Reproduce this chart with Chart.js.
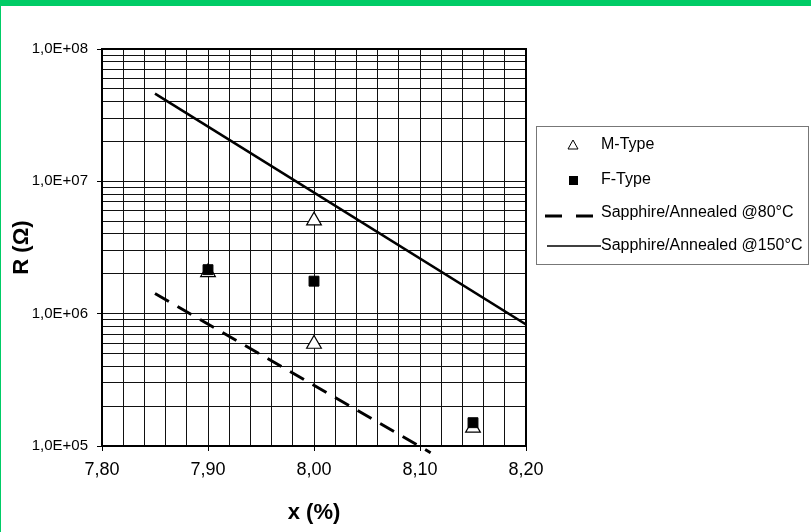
<!DOCTYPE html>
<html>
<head>
<meta charset="utf-8">
<script src="https://cdn.jsdelivr.net/npm/chart.js@4"></script>
<style>
  body { margin: 0; background: #fff; }
  #frame {
    width: 811px;
    height: 532px;
    box-sizing: border-box;
    border-top: 6px solid #00cc66;
    border-left: 1px solid #00cc66;
    background: #fff;
  }
  canvas { display: block; }
</style>
</head>
<body>
<div id="frame"><canvas id="chart" width="810" height="526"></canvas></div>
<script>
// Resistance vs. x, log scale, with two annealing reference lines

const mTypeX = [7.90, 8.00, 8.00, 8.15];
const mTypeR = [2.05e6, 5.05e6, 5.9e5, 1.37e5];

const fTypeX = [7.90, 8.00, 8.15];
const fTypeR = [2.15e6, 1.76e6, 1.5e5];

const anneal80X = [7.85, 8.11];
const anneal80R = [1.42e6, 8.9e4];

const anneal150X = [7.85, 8.20];
const anneal150R = [4.6e7, 8.3e5];

const seriesLabels = ["M-Type", "F-Type", "Sapphire/Annealed @80°C", "Sapphire/Annealed @150°C"];

const xMajorTicks = [7.8, 7.9, 8.0, 8.1, 8.2];
const xTickLabels = ["7,80", "7,90", "8,00", "8,10", "8,20"];
const xGridStep = 0.02;

const yDecades = [1e5, 1e6, 1e7, 1e8];
const yTickLabels = ["1,0E+05", "1,0E+06", "1,0E+07", "1,0E+08"];

const FONT = "'Liberation Sans', Arial, sans-serif";

function toPoints(xs, ys) {
  return xs.map((x, i) => ({ x, y: ys[i] }));
}

function isXMajor(v) {
  return xMajorTicks.some((t) => Math.abs(t - v) < 1e-6);
}

function isYMajor(v) {
  return yDecades.some((d) => Math.abs(d - v) / d < 1e-6);
}

// plot frame on all four sides
const framePlugin = {
  id: "frame",
  beforeDatasetsDraw(chart) {
    const { ctx, chartArea: a } = chart;
    ctx.save();
    ctx.strokeStyle = "#000";
    ctx.lineWidth = 2;
    ctx.strokeRect(a.left, a.top, a.right - a.left, a.bottom - a.top);
    ctx.restore();
  },
};

// boxed legend sitting to the right of the plot
const boxLegend = {
  id: "boxLegend",
  afterDraw(chart) {
    const ctx = chart.ctx;
    const box = { x: 535, y: 120, w: 272, h: 138 };
    const rows = [139, 174, 207, 240];
    const symX = 572;
    const textX = 600;
    ctx.save();
    ctx.strokeStyle = "#777";
    ctx.lineWidth = 1;
    ctx.strokeRect(box.x + 0.5, box.y + 0.5, box.w, box.h);

    ctx.font = "16px " + FONT;
    ctx.fillStyle = "#000";
    ctx.textBaseline = "middle";
    ctx.textAlign = "left";

    // triangle
    ctx.beginPath();
    ctx.moveTo(symX, rows[0] - 5);
    ctx.lineTo(symX + 5, rows[0] + 4);
    ctx.lineTo(symX - 5, rows[0] + 4);
    ctx.closePath();
    ctx.fillStyle = "#fff";
    ctx.fill();
    ctx.strokeStyle = "#000";
    ctx.stroke();

    // square
    ctx.fillStyle = "#000";
    ctx.fillRect(symX - 4, rows[1] - 4, 9, 9);

    // dashed line
    ctx.lineWidth = 3;
    ctx.setLineDash([17, 14]);
    ctx.beginPath();
    ctx.moveTo(544, rows[2] + 3);
    ctx.lineTo(593, rows[2] + 3);
    ctx.stroke();

    // solid line
    ctx.setLineDash([]);
    ctx.lineWidth = 1.5;
    ctx.beginPath();
    ctx.moveTo(546, rows[3]);
    ctx.lineTo(600, rows[3]);
    ctx.stroke();

    seriesLabels.forEach((label, i) => {
      ctx.fillText(label, textX, rows[i]);
    });
    ctx.restore();
  },
};

new Chart(document.getElementById("chart"), {
  type: "scatter",
  data: {
    datasets: [
      {
        label: seriesLabels[1],
        data: toPoints(fTypeX, fTypeR),
        pointStyle: "rect",
        pointRadius: 7,
        backgroundColor: "#000",
        borderColor: "#000",
        borderWidth: 1,
        order: 0,
      },
      {
        label: seriesLabels[0],
        data: toPoints(mTypeX, mTypeR),
        pointStyle: "triangle",
        pointRadius: 8.5,
        backgroundColor: "#fff",
        borderColor: "#000",
        borderWidth: 1.2,
        order: 1,
      },
      {
        label: seriesLabels[2],
        data: toPoints(anneal80X, anneal80R),
        showLine: true,
        borderColor: "#000",
        borderWidth: 3,
        borderDash: [16, 10],
        pointRadius: 0,
        clip: false,
        order: 2,
      },
      {
        label: seriesLabels[3],
        data: toPoints(anneal150X, anneal150R),
        showLine: true,
        borderColor: "#000",
        borderWidth: 2.5,
        pointRadius: 0,
        order: 3,
      },
    ],
  },
  options: {
    responsive: false,
    animation: false,
    layout: { padding: { left: 0, top: 43, right: 285, bottom: 0 } },
    plugins: {
      legend: { display: false },
      tooltip: { enabled: false },
    },
    scales: {
      x: {
        type: "linear",
        min: xMajorTicks[0],
        max: xMajorTicks[xMajorTicks.length - 1],
        afterBuildTicks(scale) {
          const ticks = [];
          const n = Math.round((scale.max - scale.min) / xGridStep);
          for (let i = 0; i <= n; i += 1) {
            ticks.push({ value: +(scale.min + i * xGridStep).toFixed(2) });
          }
          scale.ticks = ticks;
        },
        afterFit(scale) {
          scale.height = 86;
        },
        border: { display: false },
        grid: {
          color: "#111",
          lineWidth: 1,
          tickLength: 5,
          tickColor: (c) => (c.tick && isXMajor(c.tick.value) ? "#000" : "rgba(0,0,0,0)"),
        },
        ticks: {
          autoSkip: false,
          maxRotation: 0,
          padding: 8,
          color: "#000",
          font: { family: FONT, size: 18 },
          callback(value) {
            const i = xMajorTicks.findIndex((t) => Math.abs(t - value) < 1e-6);
            return i >= 0 ? xTickLabels[i] : "";
          },
        },
        title: {
          display: true,
          text: "x (%)",
          color: "#000",
          font: { family: FONT, size: 22, weight: "bold" },
          padding: { top: 0, bottom: 6 },
        },
      },
      y: {
        type: "logarithmic",
        min: yDecades[0],
        max: yDecades[yDecades.length - 1],
        afterBuildTicks(scale) {
          const ticks = [];
          yDecades.forEach((d, i) => {
            if (i === yDecades.length - 1) {
              ticks.push({ value: d });
              return;
            }
            for (let m = 1; m <= 9; m += 1) ticks.push({ value: d * m });
          });
          scale.ticks = ticks;
        },
        afterFit(scale) {
          scale.width = 101;
        },
        border: { display: false },
        grid: {
          color: "#111",
          lineWidth: 1,
          tickLength: 5,
          tickColor: (c) => (c.tick && isYMajor(c.tick.value) ? "#000" : "rgba(0,0,0,0)"),
        },
        ticks: {
          autoSkip: false,
          padding: 9,
          color: "#000",
          font: { family: FONT, size: 15 },
          callback(value) {
            const i = yDecades.findIndex((d) => Math.abs(d - value) / d < 1e-6);
            return i >= 0 ? yTickLabels[i] : "";
          },
        },
        title: {
          display: true,
          text: "R (Ω)",
          color: "#000",
          font: { family: FONT, size: 22, weight: "bold" },
          padding: { top: 8, bottom: 0 },
        },
      },
    },
  },
  plugins: [framePlugin, boxLegend],
});
</script>
</body>
</html>
